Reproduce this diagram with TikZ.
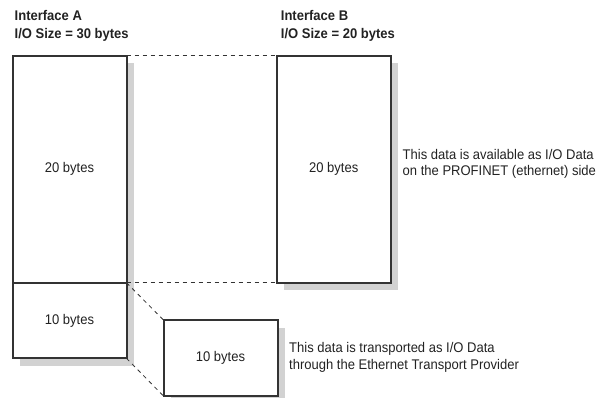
\documentclass[tikz,border=0pt]{standalone}
\usepackage{fontspec}
\setmainfont{Liberation Sans}[FakeStretch=0.93]
\usetikzlibrary{shadows}
\definecolor{boxline}{HTML}{333333}
\definecolor{boxshade}{HTML}{D2D2D2}
\definecolor{txt}{HTML}{222222}

\begin{document}
\begin{tikzpicture}[x=1pt,y=-1pt,
    bytebox/.style={draw=boxline,line width=2pt,fill=white,inner sep=0pt,outer sep=0pt,
      minimum width=114pt,text=txt,font=\fontsize{14}{16}\selectfont,
      drop shadow={shadow xshift=7.5pt,shadow yshift=-7.5pt,fill=boxshade,opacity=1}},
    head/.style={anchor=north west,inner sep=0pt,align=left,text=txt,
      font=\fontsize{14}{18}\selectfont\bfseries},
    note/.style={anchor=north west,inner sep=0pt,align=left,text=txt,
      font=\fontsize{14}{16.5}\selectfont},
    link/.style={draw=boxline,line width=0.8pt,dash pattern=on 4pt off 4pt}]
  \useasboundingbox (0,0) rectangle (599,398);
  % interface A, split in two parts
  \node [head] (headA) at (14.5,9.8) {Interface A\\I/O Size = 30 bytes};
  \node [bytebox,minimum height=227pt] (aTop) at (69.5,169.2) {20 bytes};
  \node [bytebox,minimum height=75.6pt] (aLow) at (69.5,320.5) {10 bytes};
  % interface B
  \node [head] (headB) at (280.7,9.8) {Interface B\\I/O Size = 20 bytes};
  \node [bytebox,minimum height=227pt] (ifB) at (333.7,169.2) {20 bytes};
  % transport provider part
  \node [bytebox,minimum height=76pt] (ifC) at (220.5,358) {10 bytes};
  % notes
  \node [note] (noteB) at (402.5,148.8) {This data is available as I/O Data\\on the PROFINET (ethernet) side};
  \node [note] (noteC) at (289,342.5) {This data is transported as I/O Data\\through the Ethernet Transport Provider};
  % dashed links
  \draw [link] (aTop.north east) -- (ifB.north west);
  \draw [link] (aLow.north east) -- (ifB.south west);
  \draw [link] (aLow.north east) -- (ifC.north west);
  \draw [link] (aLow.south east) -- (ifC.south west);
\end{tikzpicture}
\end{document}
